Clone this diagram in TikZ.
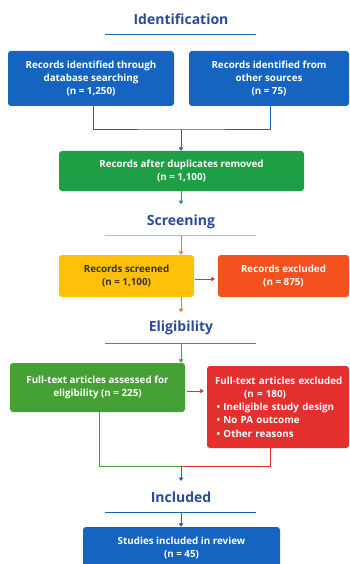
\documentclass[tikz,border=0pt]{standalone}
\usepackage{fontspec}
\setmainfont{Open Sans}
\usetikzlibrary{arrows.meta}
\definecolor{cblue}{HTML}{1565C0}
\definecolor{ctitle}{HTML}{2A4A9E}
\definecolor{cgreenA}{HTML}{1E9E45}
\definecolor{cgreenB}{HTML}{45A035}
\definecolor{cyellow}{HTML}{FFC107}
\definecolor{corange}{HTML}{F4511E}
\definecolor{cred}{HTML}{E3302F}
\definecolor{carrowO}{HTML}{EF7D22}
\tikzset{
  box/.style={rounded corners=3pt, inner sep=2pt, align=center, font=\bfseries\fontsize{9.8}{13.3}\selectfont, text=white},
  ttl/.style={font=\bfseries\fontsize{14}{16}\selectfont, text=ctitle},
  arr/.style={line width=0.8pt, -{Triangle[width=4.5pt,length=3.5pt]}},
  ln/.style={line width=0.8pt}
}
\begin{document}
\begin{tikzpicture}[x=1pt,y=-1pt]
\clip (0,0) rectangle (349,564);
\useasboundingbox (0,0) rectangle (349,564);
\fill[white] (0,0) rectangle (349,564);
% Identification
\node[ttl] (t1) at (181,19) {Identification};
\coordinate (l1a) at (105,34); \coordinate (l1b) at (256,34);
\draw[ln, cblue] (l1a) -- (l1b);
\node[box, fill=cblue, minimum width=166pt, minimum height=55pt] (b1) at (91,78.5) {Records identified through\\database searching\\(n = 1,250)};
\node[box, fill=cblue, minimum width=160pt, minimum height=55pt] (b2) at (269,78.5) {Records identified from\\other sources\\(n = 75)};
\node[box, fill=cgreenA, minimum width=245pt, minimum height=40pt] (g1) at (181.5,171) {Records after duplicates removed\\(n = 1,100)};
\coordinate (j1) at (181,129);
\draw[ln, cblue] (b1.south -| 93,0) |- (j1) -| (b2.south -| 270,0);
\draw[arr, cblue] (j1) -- (g1.north -| j1);
% Screening
\node[ttl] (t2) at (181,222) {Screening};
\coordinate (l2a) at (105,235); \coordinate (l2b) at (256,235);
\coordinate (l2m) at (181,235);
\draw[ln, cyellow!90!orange] (l2a) -- (l2b);
\draw[arr, cgreenA] (g1.south -| l2m) -- ++(0,13);
\node[box, fill=cyellow, text=black!80, minimum width=135pt, minimum height=42pt] (y1) at (126.5,276) {Records screened\\(n = 1,100)};
\node[box, fill=corange, minimum width=131pt, minimum height=42pt] (o1) at (283.5,276) {Records excluded\\(n = 875)};
\draw[arr, carrowO] (l2m) -- (y1.north -| l2m);
\draw[arr, cred] ([xshift=1pt]y1.east |- 0,279) -- ([xshift=-3pt]o1.west |- 0,279);
% Eligibility
\node[ttl] (t3) at (181,328) {Eligibility};
\coordinate (l3a) at (105,343); \coordinate (l3b) at (256,343);
\coordinate (l3m) at (181,343);
\draw[ln, cgreenB] (l3a) -- (l3b);
\draw[arr, carrowO] (y1.south -| l3m) -- ++(0,15);
\node[box, fill=cgreenB, minimum width=175pt, minimum height=49pt] (g2) at (97.5,387.5) {Full-text articles assessed for\\eligibility (n = 225)};
\node[box, fill=cred, minimum width=142pt, minimum height=82pt, align=left, text width=136pt] (r1) at (278,407) {\hspace*{5pt}Full-text articles excluded\\\hspace*{34pt}(n = 180)\\\hspace*{6.5pt}• Ineligible study design\\\hspace*{6.5pt}• No PA outcome\\\hspace*{6.5pt}• Other reasons};
\draw[arr, cgreenB] (l3m) -- (g2.north -| l3m);
\draw[arr, cred] ([xshift=2pt]g2.east |- 0,391) -- ([xshift=-3pt]r1.west |- 0,391);
\coordinate (j2) at (181,466);
\draw[ln, cgreenB] (g2.south -| 99,0) |- (j2);
\draw[ln, cred] (r1.south -| 270,0) |- (j2);
% Included
\node[ttl] (t4) at (181,497) {Included};
\coordinate (l4a) at (105,512); \coordinate (l4b) at (256,512);
\coordinate (l4m) at (181,512);
\draw[ln, cblue] (l4a) -- (l4b);
\draw[arr, cblue] (j2) -- ++(0,15);
\node[box, fill=cblue, minimum width=197pt, minimum height=42pt] (b3) at (181.5,548) {Studies included in review\\(n = 45)};
\draw[arr, cblue] (l4m) -- (b3.north -| l4m);
\end{tikzpicture}
\end{document}
